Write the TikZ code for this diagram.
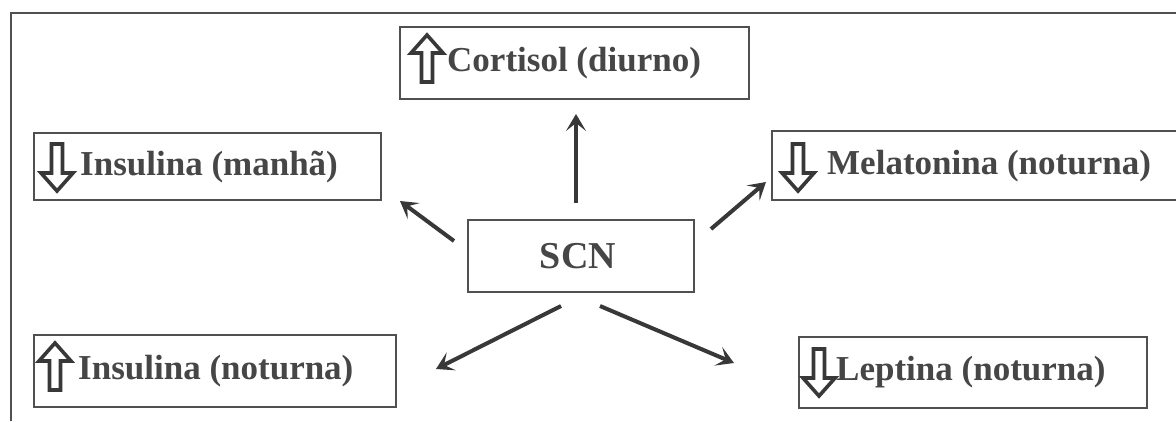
\documentclass[tikz,border=0pt]{standalone}
\usepackage{fontspec}
\setmainfont{Liberation Serif}
\usetikzlibrary{arrows.meta}
\definecolor{txt}{HTML}{464646}
\definecolor{frm}{HTML}{505050}
\definecolor{arr}{HTML}{383838}
\tikzset{
  box/.style={draw=frm, line width=2pt, rectangle, inner sep=0pt, anchor=north west},
  lbl/.style={text=txt, font=\bfseries\fontsize{35}{40}\selectfont, inner sep=0pt, anchor=west},
  conn/.style={draw=arr, line width=4pt, -{Stealth[length=17pt,width=20pt,inset=8pt]}},
  uparr/.pic={\draw[draw=arr, line width=3.6pt, fill=white, line join=miter]
     (0,0) -- (16,18) -- (5.5,18) -- (5.5,47) -- (-5.5,47) -- (-5.5,18) -- (-16,18) -- cycle;},
  dnarr/.pic={\draw[draw=arr, line width=3.6pt, fill=white, line join=miter]
     (0,0) -- (16,-18) -- (5.5,-18) -- (5.5,-47) -- (-5.5,-47) -- (-5.5,-18) -- (-16,-18) -- cycle;}
}
\begin{document}
\begin{tikzpicture}[x=1pt, y=-1pt]
\useasboundingbox (0,0) rectangle (1176,421);
\fill[white] (0,0) rectangle (1176,421);
% outer frame (top and left only visible)
\draw[draw=frm, line width=2.5pt] (11,421) -- (11,13) -- (1176,13);
% boxes
\node[box, minimum width=349pt, minimum height=72pt] (cortb) at (399,26) {};
\node[box, minimum width=347pt, minimum height=67pt] (insmb) at (33,132) {};
\node[box, minimum width=405pt, minimum height=69pt] (melb) at (771,130) {};
\node[box, minimum width=226pt, minimum height=72pt] (scn) at (467,219) {};
\node[box, minimum width=362pt, minimum height=72pt] (insnb) at (33,334) {};
\node[box, minimum width=348pt, minimum height=71pt] (lepb) at (798,336) {};
% labels
\node[lbl] (cort) at (447,63) {Cortisol (diurno)};
\node[lbl] (insm) at (80,167) {Insulina (manhã)};
\node[lbl] (mel) at (827,166) {Melatonina (noturna)};
\node[lbl, anchor=center, font=\bfseries\fontsize{38}{42}\selectfont] (scnt) at (578,256) {SCN};
\node[lbl] (insn) at (78,371) {Insulina (noturna)};
\node[lbl] (lep) at (836,372) {Leptina (noturna)};
% up/down symbols
\pic at (427,35) {uparr};
\pic at (57,191) {dnarr};
\pic at (798,191) {dnarr};
\pic at (55,343) {uparr};
\pic at (819,396) {dnarr};
% connector end points
\coordinate (s1) at (576,203); \coordinate (e1) at (576,114);
\coordinate (s2) at (454,241); \coordinate (e2) at (400,201);
\coordinate (s3) at (711,229); \coordinate (e3) at (766,182);
\coordinate (s4) at (561,306); \coordinate (e4) at (436,369);
\coordinate (s5) at (600,306); \coordinate (e5) at (734,363);
\draw[conn] (s1) -- (e1);
\draw[conn] (s2) -- (e2);
\draw[conn] (s3) -- (e3);
\draw[conn] (s4) -- (e4);
\draw[conn] (s5) -- (e5);
\end{tikzpicture}
\end{document}
